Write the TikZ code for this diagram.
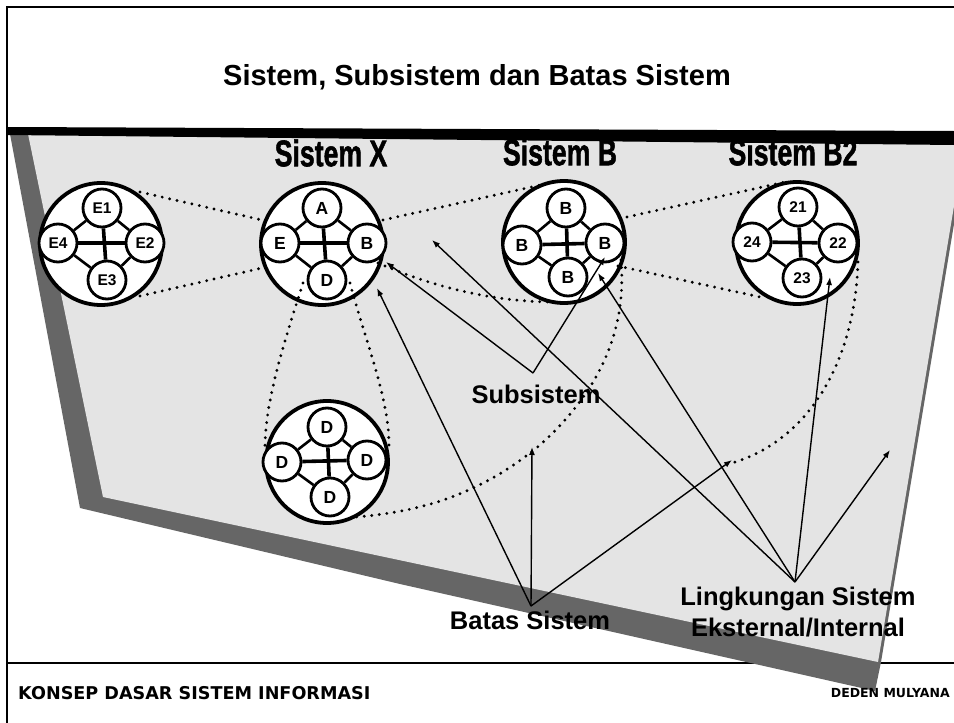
\documentclass[tikz,border=0pt]{standalone}
\usepackage{fontspec}
\setmainfont{Liberation Sans}
\newfontfamily\footfont{DejaVu Sans}
\newfontfamily\impactfont{Liberation Sans}[BoldFeatures={FakeBold=1.6}]
\usepackage{graphicx}
\usetikzlibrary{arrows.meta}
\definecolor{panelgray}{HTML}{E4E4E4}
\definecolor{shadowgray}{HTML}{666666}
\newcommand\clines[1]{%
  \draw[crossline] (#1t) -- (#1b);
  \draw[crossline] (#1l) -- (#1r);
  \draw[diagline] (#1t) -- (#1r);
  \draw[diagline] (#1r) -- (#1b);
  \draw[diagline] (#1b) -- (#1l);
  \draw[diagline] (#1l) -- (#1t);
}
\begin{document}
\begin{tikzpicture}[x=1pt,y=-1pt,
  big/.style={circle,draw,fill=white,line width=3.8pt,minimum size=122pt,inner sep=0pt},
  sm/.style={circle,draw,fill=white,line width=2.8pt,minimum size=38pt,inner sep=0pt,font=\fontsize{17.5}{17.5}\selectfont\bfseries},
  smn/.style={sm,font=\fontsize{15.5}{15.5}\selectfont\bfseries},
  crossline/.style={line width=3.6pt},
  diagline/.style={line width=2.6pt},
  dots/.style={line width=3.2pt,line cap=round,dash pattern=on 0pt off 7.6pt},
  arr/.style={line width=1.4pt,-{Latex[length=8pt,width=6pt]}},
  lab/.style={font=\fontsize{25.5}{28}\selectfont\bfseries,inner sep=0pt,align=center},
  head/.style={font=\impactfont\fontsize{37}{37}\selectfont\bfseries,inner sep=0pt},
]
\useasboundingbox (0,0) rectangle (954,723);
\fill[white] (0,0) rectangle (954,723);
% frame
\draw[line width=2pt] (7,723) -- (7,7) -- (954,7);
\draw[line width=1.5pt] (7,663) -- (954,663);
% title
\node[font=\fontsize{29}{32}\selectfont\bfseries] (title) at (477,77) {Sistem, Subsistem dan Batas Sistem};
% panel
\fill[shadowgray] (10,134) -- (80,508) -- (400,584) -- (875,691) -- (881,662) -- (961,182) -- (961,134) -- cycle;
\fill[panelgray] (28,134) -- (103,497) -- (878,662) -- (958,182) -- (958,134) -- cycle;
% headers
\node[head] (hx) at (331,153) {\scalebox{0.72}[1]{Sistem X}};
\node[head] (hb) at (560,152) {\scalebox{0.72}[1]{Sistem B}};
\node[head] (hb2) at (793,152) {\scalebox{0.72}[1]{Sistem B2}};
% top band
\fill[black] (8,127) -- (954,131) -- (954,145) -- (8,135) -- cycle;
% big circles
\node[big] (ce) at (101,244) {};
\node[big] (cx) at (322,244) {};
\node[big] (cb) at (564,242) {};
\node[big] (cc) at (797,243) {};
\node[big] (cd) at (327,462) {};
% dotted links
\draw[dots] (140,192) -- (262,220);
\draw[dots] (140,296) -- (262,268);
\draw[dots] (383,220) -- (545,184);
\draw[dots] (378,263) .. controls (440,290) and (500,302) .. (555,302);
\draw[dots] (627,217) -- (785,182);
\draw[dots] (618,266) -- (760,297);
\draw[dots] (303,283) .. controls (285,340) and (265,400) .. (265,448);
\draw[dots] (350,283) .. controls (365,340) and (390,400) .. (389,448);
\draw[dots] (621,260) .. controls (628,340) and (590,400) .. (540,445) .. controls (480,495) and (420,512) .. (355,517);
\draw[dots] (858,262) .. controls (855,360) and (810,440) .. (732,463);
% cluster E
\node[smn] (et) at (102,208) {E1};
\node[smn] (er) at (145,243) {E2};
\node[smn] (eb) at (107,280) {E3};
\node[smn] (el) at (58,243) {E4};
\clines{e}
% cluster X
\node[sm] (xt) at (322,208) {A};
\node[sm] (xr) at (367,243) {B};
\node[sm] (xb) at (327,280) {D};
\node[sm] (xl) at (280,243) {E};
\clines{x}
% cluster B
\node[sm] (bt) at (566,208) {B};
\node[sm] (br) at (605,243) {B};
\node[sm] (bb) at (568,277) {B};
\node[sm] (bl) at (522,245) {B};
\clines{b}
% cluster B2
\node[smn] (ct) at (798,207) {21};
\node[smn] (cr) at (838,243) {22};
\node[smn] (cb2) at (802,278) {23};
\node[smn] (cl) at (752,242) {24};
\draw[crossline] (ct) -- (cb2);
\draw[crossline] (cl) -- (cr);
\draw[diagline] (ct) -- (cr);
\draw[diagline] (cr) -- (cb2);
\draw[diagline] (cb2) -- (cl);
\draw[diagline] (cl) -- (ct);
% cluster D
\node[sm] (dt) at (327,427) {D};
\node[sm] (dr) at (367,460) {D};
\node[sm] (db) at (330,497) {D};
\node[sm] (dl) at (282,462) {D};
\clines{d}
% apex and targets
\coordinate (sap) at (533,373);
\coordinate (bap) at (531,606);
\coordinate (lap) at (795,582);
\coordinate (s1) at (386,262);
\coordinate (s2) at (605,257);
\coordinate (b1) at (377,288);
\coordinate (b2) at (532,447);
\coordinate (b3) at (732,460);
\coordinate (l1) at (432,240);
\coordinate (l2) at (598,273);
\coordinate (l3) at (830,277);
\coordinate (l4) at (890,450);
\draw[arr] (sap) -- (s1);
\draw[arr] (sap) -- (s2);
\draw[arr] (bap) -- (b1);
\draw[arr] (bap) -- (b2);
\draw[arr] (bap) -- (b3);
\draw[arr] (lap) -- (l1);
\draw[arr] (lap) -- (l2);
\draw[arr] (lap) -- (l3);
\draw[arr] (lap) -- (l4);
% labels
\node[lab] (lsub) at (536,394) {Subsistem};
\node[lab] (lbat) at (530,620) {Batas Sistem};
\node[lab] (lling) at (798,612) {Lingkungan Sistem\\[3pt]Eksternal/Internal};
% footer
\node[anchor=west,font=\footfont\fontsize{17.6}{17.6}\selectfont\bfseries,inner sep=0pt] (fl) at (18,693) {KONSEP DASAR SISTEM INFORMASI};
\node[anchor=east,font=\footfont\fontsize{12.5}{12.5}\selectfont\bfseries,inner sep=0pt] (fr) at (950,693) {DEDEN MULYANA};
\end{tikzpicture}
\end{document}
